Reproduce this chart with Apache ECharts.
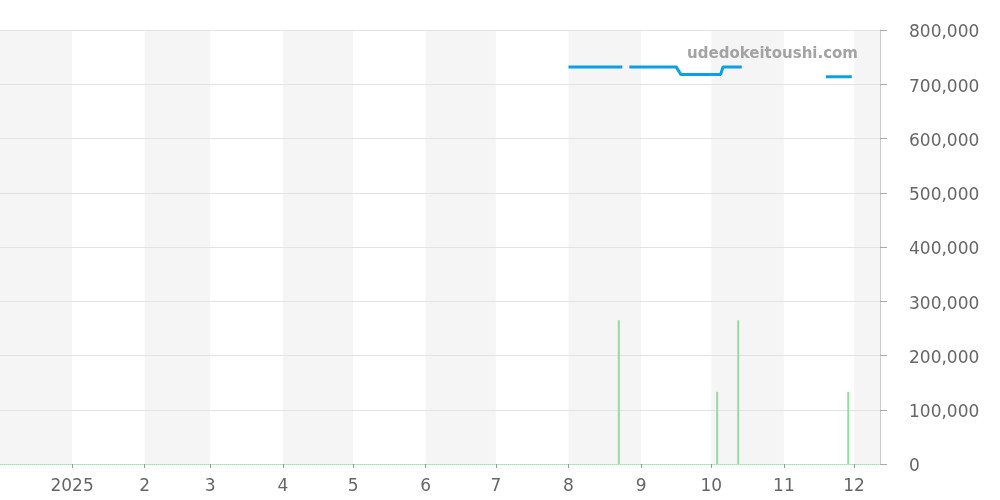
<!DOCTYPE html>
<html><head><meta charset="utf-8">
<script src="https://cdn.jsdelivr.net/npm/echarts@6/dist/echarts.min.js"></script>
<style>html,body{margin:0;padding:0;background:#fff}#c{width:1000px;height:500px}</style>
</head><body><div id="c"></div>
<script>
// price line (null = gap)
const priceDates  = ['2025-08-01','2025-08-24','2025-08-25','2025-08-27','2025-09-16','2025-09-18','2025-10-05','2025-10-06','2025-10-14','2025-10-15','2025-11-19','2025-11-30'];
const priceValues = [732000, 732000, null, 732000, 732000, 718000, 718000, 732000, 732000, null, 714000, 714000];
// volume bars
const volDates  = ['2025-08-22 12:00','2025-10-03 12:00','2025-10-12 12:00','2025-11-28 12:00'];
const volValues = [265000, 133000, 265000, 133000];
const axisMin = '2024-12-01 15:00';
const axisMax = '2025-12-11 15:00';
const watermark = 'udedokeitoushi.com';

const chart = echarts.init(document.getElementById('c'));
const font = 'DejaVu Sans';
chart.setOption({
  animation: false,
  grid: {left: 0, right: 120, top: 30, bottom: 36},
  xAxis: {
    type: 'time', min: axisMin, max: axisMax, z: 0,
    splitNumber: 12, maxInterval: 31*86400000,
    axisLine: {show: true, lineStyle: {color: '#a9dcb0', type: 'dotted', width: 1}},
    axisTick: {show: true, length: 4, lineStyle: {color: '#999'}},
    axisLabel: {color: '#666', fontSize: 17, fontFamily: font, margin: 14,
      formatter: function (v) { const d = new Date(v); return d.getMonth() === 0 ? String(d.getFullYear()) : String(d.getMonth() + 1); }},
    splitLine: {show: false},
    splitArea: {show: true, areaStyle: {color: ['#f5f5f5', '#ffffff']}}
  },
  yAxis: {
    type: 'value', position: 'right', min: 0, max: 800000, interval: 100000, z: 2,
    axisLine: {show: true, lineStyle: {color: '#ccc'}},
    axisTick: {show: true, length: 7, lineStyle: {color: '#aaa'}},
    axisLabel: {color: '#666', fontSize: 17, fontFamily: font, margin: 29, verticalAlign: 'top', lineHeight: 6,
      formatter: function (v) { return v.toLocaleString('en-US'); }},
    splitLine: {show: true, showMinLine: false, lineStyle: {color: '#e3e3e3'}}
  },
  graphic: [{type: 'text', right: 142, top: 47, z: 100,
    style: {text: watermark, fill: '#a3a3a3', font: 'bold 15px "DejaVu Sans"'}}],
  series: [
    {type: 'bar', barWidth: 2, itemStyle: {color: '#96dba0'}, z: 3,
     data: volDates.map((d, i) => [d, volValues[i]])},
    {type: 'line', showSymbol: false, connectNulls: false, z: 5,
     lineStyle: {color: '#0ba0e6', width: 3},
     data: priceDates.map((d, i) => [d, priceValues[i] === null ? '-' : priceValues[i]])}
  ]
});
</script></body></html>
